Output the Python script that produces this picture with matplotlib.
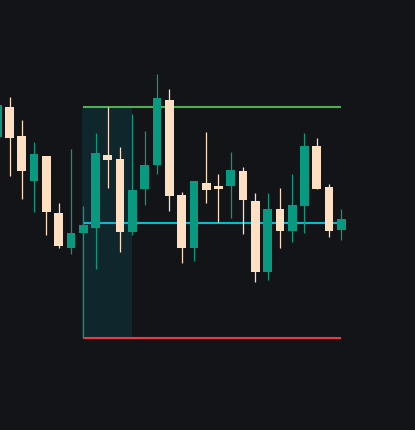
import numpy as np
import matplotlib.pyplot as plt
from matplotlib.patches import Rectangle

# candle data (OHLC), one entry per bar
opens = [293, 323, 294, 249.3, 274, 217, 182.3, 197.3, 202.3, 275, 271, 198.3, 241.3, 265.3,
         330, 235, 182.3, 247, 244, 244.3, 259, 229, 158.3, 221, 199.3, 224.3, 284, 243, 200.3]
highs = [327, 333, 310, 288, 274, 227, 281, 224, 297, 323, 283, 316, 299, 356,
         341, 238, 249, 298, 256, 278, 263, 237, 237, 242, 256, 297, 292, 246, 221]
lows = [291, 254.3, 231.3, 218.3, 195.3, 182.3, 176.3, 92, 161.3, 242.3, 178.3, 195.3, 225.3, 256.3,
        219.3, 167.3, 169.3, 227.3, 208.3, 212.3, 196.3, 148.3, 150.3, 182.3, 188.3, 197.3, 241.3, 193.3, 190.3]
closes = [325, 292.3, 259.3, 276, 218.3, 184.3, 197, 205, 277, 270.3, 198.3, 240, 265, 332,
          234.3, 182.3, 249, 240.3, 241.3, 260, 230.3, 158.3, 221, 199.3, 225, 284, 241.3, 199.3, 211]

# levels drawn across the chart
level_start = 7
level_end = 28
high_level = 323.3
mid_level = 207.3
low_level = 92.3
zone_start = 7
zone_end = 11

bg = '#131417'
up_col = '#089981'
down_col = '#ffdfc2'

fig = plt.figure(figsize=(4.15, 4.3), dpi=100, facecolor=bg)
ax = fig.add_axes([0, 0, 1, 1])
ax.set_facecolor(bg)
ax.axis('off')

# shaded zone
ax.add_patch(Rectangle((zone_start - 0.08, low_level), zone_end - zone_start + 0.08,
                       high_level - low_level, facecolor='#10262d', edgecolor='none', zorder=1))

ax.hlines(high_level, level_start, level_end, color='#4caf50', lw=1.5, zorder=2)
ax.hlines(mid_level, level_start, level_end + 0.3, color='#00bcd4', lw=1.5, zorder=2)
ax.hlines(low_level, level_start, level_end, color='#f23645', lw=1.5, zorder=2)

x = np.arange(len(opens))
o = np.array(opens)
c = np.array(closes)
colors = [up_col if cc >= oo else down_col for oo, cc in zip(o, c)]

ax.vlines(x, lows, highs, colors=colors, lw=0.9, zorder=3)
ax.bar(x, np.abs(c - o), bottom=np.minimum(o, c), width=0.71, color=colors, zorder=4)

ax.set_xlim(0.227, 33.99)
ax.set_ylim(0, 430)

fig.savefig('out.png', dpi=100, facecolor=bg)
